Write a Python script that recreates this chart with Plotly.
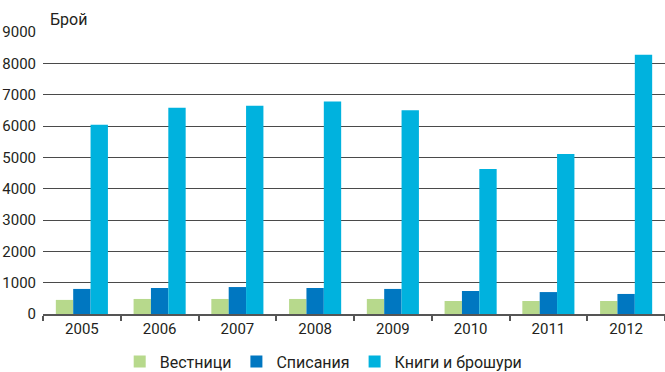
import plotly.graph_objects as go

years = ["2005", "2006", "2007", "2008", "2009", "2010", "2011", "2012"]
vestnitsi = [450, 480, 480, 480, 480, 415, 415, 415]
spisaniya = [800, 830, 860, 830, 800, 735, 700, 640]
knigi = [6040, 6580, 6650, 6780, 6500, 4630, 5110, 8275]

series = [
    ("Вестници", vestnitsi, "#b7d98c"),
    ("Списания", spisaniya, "#0077c1"),
    ("Книги и брошури", knigi, "#00b2de"),
]

FONT = "Roboto, sans-serif"

fig = go.Figure()
for name, vals, color in series:
    fig.add_trace(go.Bar(x=years, y=vals, name=name, marker_color=color,
                         marker_line_width=0))

fig.update_layout(
    width=665, height=372,
    margin=dict(l=43, r=0, t=32, b=58),
    paper_bgcolor="white", plot_bgcolor="white",
    barmode="group", bargap=0.33, bargroupgap=0,
    font=dict(family=FONT, size=14, color="#231f20"),
    legend=dict(orientation="h", xref="container", yref="container",
                x=0.18, xanchor="left", y=0.028, yanchor="middle",
                font=dict(size=16), itemwidth=30,
                tracegroupgap=0, traceorder="normal"),
    showlegend=True,
)
fig.update_xaxes(type="category", showgrid=False, showline=True,
                 linecolor="#555555", linewidth=1.5,
                 ticks="outside", tickson="boundaries", ticklen=5,
                 tickcolor="#555555", tickwidth=1.5,
                 tickfont=dict(size=15))
fig.update_yaxes(range=[0, 9000], dtick=1000, showgrid=True,
                 gridcolor="#4a4a4a", gridwidth=1.4, zeroline=False,
                 showline=False, ticks="", ticklabelstandoff=6,
                 tickfont=dict(size=15))
fig.add_annotation(text="Брой", xref="paper", yref="paper", x=0.008, y=1.0,
                   xanchor="left", yanchor="bottom", yshift=1, showarrow=False,
                   font=dict(size=16, family=FONT))

fig.write_html("out.html")
